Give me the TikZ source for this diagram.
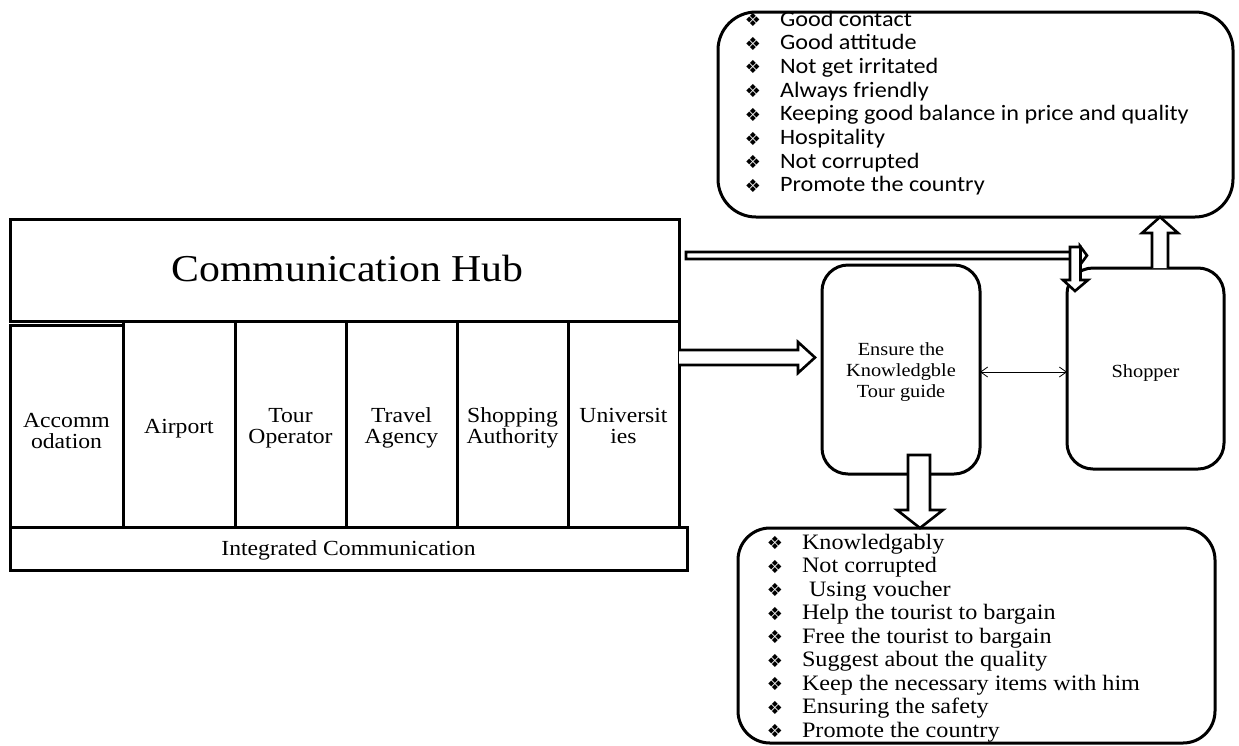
\documentclass[tikz,border=0pt]{standalone}
\usepackage{fontspec}
\setmainfont{Liberation Serif}[FakeStretch=1.1]
\newfontfamily\calib{Carlito}[FakeStretch=1.1]
\newfontfamily\djv{DejaVu Sans}
\usetikzlibrary{fit,arrows.meta}
\newcommand{\cstack}[2]{\vtop{\lineskiplimit=-100pt \baselineskip=#1 \halign{\hfil##\hfil\cr #2\crcr}}}
\newcommand{\lstack}[2]{\vtop{\lineskiplimit=-100pt \baselineskip=#1 \halign{##\hfil\cr #2\crcr}}}
\newcommand{\bul}{{\djv\fontsize{18}{18}\selectfont ❖}}
\newcommand{\bitem}[1]{\makebox[27pt][l]{\makebox[0pt]{\raisebox{-0.5pt}{\bul}}}#1}
\tikzset{
  box/.style={draw, line width=3pt, inner sep=0pt, outer sep=0pt},
  rbox/.style={draw, line width=3pt, inner sep=0pt, outer sep=0pt, rounded corners=#1},
  lbl/.style={inner sep=0pt, outer sep=0pt},
  barrow/.style={draw, fill=white, line width=2.6pt, line join=miter, miter limit=10},
}
\begin{document}
\begin{tikzpicture}[x=1pt, y=-1pt]
\path[use as bounding box, fill=white] (0,0) rectangle (1239,745);

% hub
\node[box, fit={(10,219) (679,321)}] (hub) {};
\node[box, fit={(10,325) (123,527)}] (acc) {};
\node[box, fit={(123,321) (235,527)}] (air) {};
\node[box, fit={(235,321) (346,527)}] (tour) {};
\node[box, fit={(346,321) (457,527)}] (travel) {};
\node[box, fit={(457,321) (568,527)}] (shop) {};
\node[box, fit={(568,321) (679,527)}] (univ) {};
\node[box, fit={(10,527) (687,570)}] (integ) {};

\node[lbl, anchor=base, font=\fontsize{38}{40}\selectfont] (hubT) at (347.5,281.7) {Communication Hub};
\begin{scope}[every node/.style={lbl, anchor=base, font=\fontsize{21.5}{21.5}\selectfont}]
\node (accT) at (66.5,427) {\cstack{21.5pt}{Accomm\cr odation}};
\node (airT) at (179,433) {Airport};
\node (tourT) at (290.5,422) {\cstack{21.5pt}{Tour\cr Operator}};
\node (travelT) at (401.5,422) {\cstack{21.5pt}{Travel\cr Agency}};
\node (shopT) at (512.5,422) {\cstack{21.5pt}{Shopping\cr Authority}};
\node (univT) at (623.5,422) {\cstack{21.5pt}{Universit\cr ies}};
\node (integT) at (348.5,555) {Integrated Communication};
\end{scope}

% right side boxes
\node[rbox=26pt, fit={(822,265) (980,474)}] (guide) {};
\node[rbox=26pt, fit={(1067,268) (1224,469)}] (shopper) {};
\node[rbox=38pt, fit={(718,12) (1233,217)}] (qual) {};
\node[rbox=32pt, fit={(738,528) (1215,743)}] (duty) {};

\node[lbl, anchor=base, font=\fontsize{18.5}{21}\selectfont] (guideT) at (901,355) {\cstack{21pt}{Ensure the\cr Knowledgble\cr Tour guide}};
\node[lbl, anchor=base, font=\fontsize{18.5}{21}\selectfont] (shopperT) at (1145.5,377) {Shopper};

\node[lbl, anchor=base west, font=\calib\fontsize{22}{23.7}\selectfont] (qualT) at (753,26) {\lstack{23.7pt}{%
\bitem{Good contact}\cr
\bitem{Good attitude}\cr
\bitem{Not get irritated}\cr
\bitem{Always friendly}\cr
\bitem{Keeping good balance in price and quality}\cr
\bitem{Hospitality}\cr
\bitem{Not corrupted}\cr
\bitem{Promote the country}}};

\node[lbl, anchor=base west, font=\fontsize{22}{23.5}\selectfont] (dutyT) at (775,549) {\lstack{23.5pt}{%
\bitem{Knowledgably}\cr
\bitem{Not corrupted}\cr
\bitem{\hspace{7pt}Using voucher}\cr
\bitem{Help the tourist to bargain}\cr
\bitem{Free the tourist to bargain}\cr
\bitem{Suggest about the quality}\cr
\bitem{Keep the necessary items with him}\cr
\bitem{Ensuring the safety}\cr
\bitem{Promote the country}}};

% thin double arrow
\draw[line width=0.8pt, {Straight Barb[length=7pt,width=10pt]}-{Straight Barb[length=7pt,width=10pt]}] (guide.east |- 0,372) -- (shopper.west |- 0,372);

% block arrows
\draw[barrow] (hub.east |- 0,350) -- (798,350) -- (798,342) -- (815,357.5) -- (798,373) -- (798,365) -- (hub.east |- 0,365);
\draw[barrow] (686,252) -- (1080,252) -- (1080,246) -- (1087,255.5) -- (1080,265) -- (1080,259) -- (686,259) -- cycle;
\draw[barrow] (1070,247) -- (1080.5,247) -- (1080.5,280) -- (1088,280) -- (1075,291) -- (1063,280) -- (1070,280) -- cycle;
\draw[barrow] (908,455) -- (930,455) -- (930,510) -- (943,510) -- (920,528) -- (897,510) -- (908,510) -- cycle;
\draw[barrow] (1152,268) -- (1152,233) -- (1142,233) -- (1160,217) -- (1178,233) -- (1168,233) -- (1168,268);
\end{tikzpicture}
\end{document}
